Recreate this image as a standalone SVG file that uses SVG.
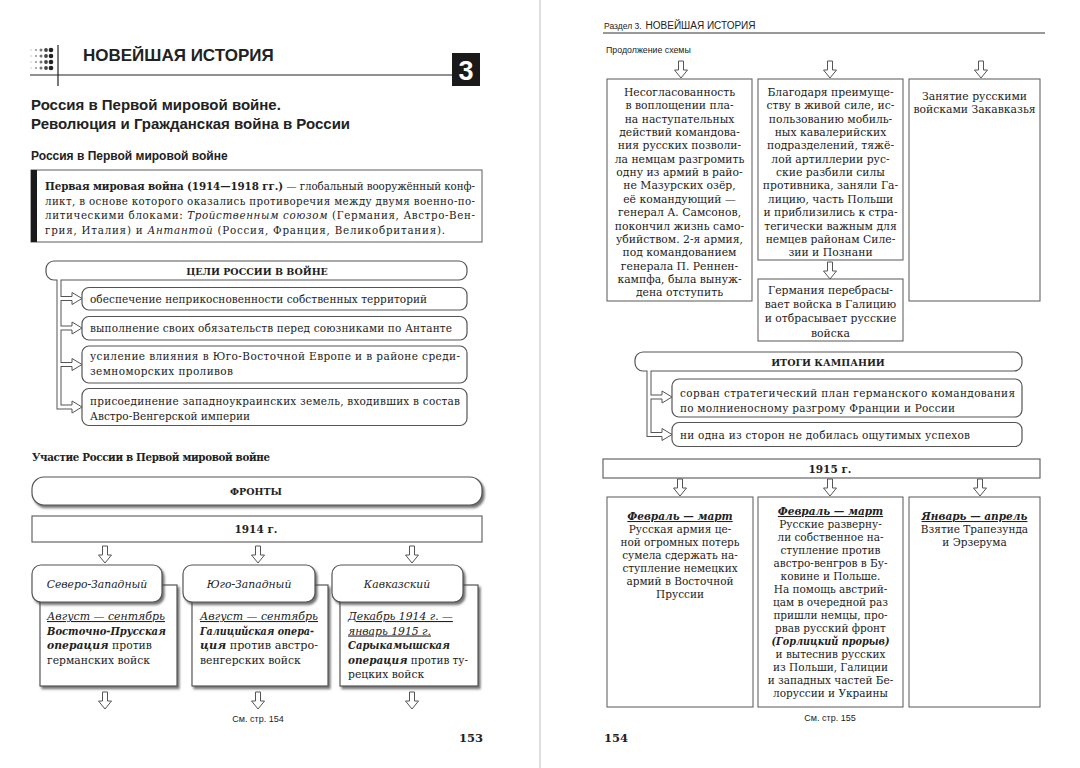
<svg xmlns="http://www.w3.org/2000/svg" width="1080" height="768" viewBox="0 0 1080 768">
<defs>
<filter id="sh" x="-10%" y="-10%" width="130%" height="150%"><feDropShadow dx="2" dy="2.5" stdDeviation="1.3" flood-color="#444" flood-opacity="0.75"/></filter>
<path id="darr" d="M-2.5,0 V9 H-6.5 L0,17 L6.5,9 H2.5 V0 Z" fill="#fff" stroke="#555" stroke-width="1"/>
<path id="rarr" d="M0,-2 V-6 L10,0 L0,6 V2" fill="#fff" stroke="#555" stroke-width="1"/>
</defs>
<style>
.sf{font-family:"DejaVu Serif","Liberation Serif",serif;fill:#222}
.ss{font-family:"Liberation Sans",Arial,sans-serif;fill:#222}
.box{fill:#fff;stroke:#555;stroke-width:1.2}
.rbox{fill:#fff;stroke:#666;stroke-width:1.1}
.body{font-size:10.5px}
.rc{font-size:10.8px}
.card{font-size:10.8px}
.hd{font-size:9.5px;font-weight:bold}
.u{text-decoration:underline}
.bi{font-weight:bold;font-style:italic}
.it{font-style:italic}
.b{font-weight:bold}
.stemd{fill:none;stroke:#555;stroke-width:5}
.stemw{fill:none;stroke:#fff;stroke-width:3}
</style>
<rect width="1080" height="768" fill="#fff"/>
<line x1="540" y1="0" x2="540" y2="768" stroke="#d4d4d4" stroke-width="1.5"/>

<!-- LEFT PAGE HEADER -->
<g id="left-header">
<g fill="#222">
<circle cx="31" cy="50" r="0.7" fill="#bbb"/><circle cx="36" cy="50" r="1.1" fill="#999"/><circle cx="41" cy="50" r="1.5" fill="#777"/><circle cx="46" cy="50" r="1.9" fill="#444"/><circle cx="51" cy="50" r="2.3"/>
<circle cx="31" cy="56" r="0.7" fill="#bbb"/><circle cx="36" cy="56" r="1.1" fill="#999"/><circle cx="41" cy="56" r="1.5" fill="#777"/><circle cx="46" cy="56" r="1.9" fill="#444"/><circle cx="51" cy="56" r="2.3"/>
<circle cx="31" cy="62" r="0.7" fill="#bbb"/><circle cx="36" cy="62" r="1.1" fill="#999"/><circle cx="41" cy="62" r="1.5" fill="#777"/><circle cx="46" cy="62" r="1.9" fill="#444"/><circle cx="51" cy="62" r="2.3"/>
<circle cx="31" cy="68" r="0.7" fill="#bbb"/><circle cx="36" cy="68" r="1.1" fill="#999"/><circle cx="41" cy="68" r="1.5" fill="#777"/><circle cx="46" cy="68" r="1.9" fill="#444"/><circle cx="51" cy="68" r="2.3"/>
</g>
<line x1="58" y1="45" x2="58" y2="86" stroke="#222" stroke-width="1.2"/>
<line x1="30" y1="75" x2="452" y2="75" stroke="#222" stroke-width="1.2"/>
<text x="83" y="61" class="ss" font-size="17" font-weight="bold">НОВЕЙШАЯ ИСТОРИЯ</text>
<rect x="452" y="53" width="28" height="33" fill="#1a1a1a"/>
<text x="466" y="80" class="ss" font-size="27" font-weight="bold" style="fill:#fff" text-anchor="middle">3</text>
</g>

<g id="titles">
<text x="31" y="110" class="ss" font-size="15" font-weight="bold">Россия в Первой мировой войне.</text>
<text x="31" y="129" class="ss" font-size="15" font-weight="bold">Революция и Гражданская война в России</text>
<text x="31" y="160" class="ss" font-size="12" font-weight="bold">Россия в Первой мировой войне</text>
</g>

<g id="definition">
<rect x="31" y="170" width="451" height="72" fill="#fff" stroke="#777" stroke-width="1.2"/>
<rect x="31" y="170" width="6" height="72" fill="#1a1a1a"/>
<g class="sf" font-size="10.3">
<text x="45" y="190" textLength="430" lengthAdjust="spacing"><tspan class="b">Первая мировая война (1914—1918 гг.)</tspan> — глобальный вооружённый конф-</text>
<text x="45" y="204.5" textLength="430" lengthAdjust="spacing">ликт, в основе которого оказались противоречия между двумя военно-по-</text>
<text x="45" y="219" textLength="430" lengthAdjust="spacing">литическими блоками: <tspan class="it">Тройственным союзом</tspan> (Германия, Австро-Вен-</text>
<text x="45" y="233.5" textLength="400" lengthAdjust="spacing">грия, Италия) и <tspan class="it">Антантой</tspan> (Россия, Франция, Великобритания).</text>
</g>
</g>

<!-- GOALS -->
<g id="goals-header">
<rect x="46" y="261" width="421" height="19" rx="8" class="box"/>
<text x="257" y="274.5" class="sf hd" text-anchor="middle">ЦЕЛИ РОССИИ В ВОЙНЕ</text>
</g>
<g id="goal-1">
<rect x="82" y="287.5" width="385" height="22.5" rx="7" class="box"/>
<text x="90" y="302.5" class="sf body" textLength="337" lengthAdjust="spacing">обеспечение неприкосновенности собственных территорий</text>
</g>
<g id="goal-2">
<rect x="82" y="316.5" width="385" height="23.5" rx="7" class="box"/>
<text x="90" y="332" class="sf body" textLength="362" lengthAdjust="spacing">выполнение своих обязательств перед союзниками по Антанте</text>
</g>
<g id="goal-3">
<rect x="82" y="346" width="385" height="37" rx="7" class="box"/>
<text x="90" y="360" class="sf body" textLength="370" lengthAdjust="spacing">усиление влияния в Юго-Восточной Европе и в районе среди-</text>
<text x="90" y="375" class="sf body" textLength="143" lengthAdjust="spacing">земноморских проливов</text>
</g>
<g id="goal-4">
<rect x="82" y="388.5" width="385" height="37" rx="7" class="box"/>
<text x="90" y="405" class="sf body" textLength="370" lengthAdjust="spacing">присоединение западноукраинских земель, входивших в состав</text>
<text x="90" y="420" class="sf body" textLength="160" lengthAdjust="spacing">Австро-Венгерской империи</text>
</g>

<text x="32" y="461" class="sf b" font-size="10.3" textLength="238" lengthAdjust="spacing">Участие России в Первой мировой войне</text>

<g id="fronts">
<rect x="32" y="477" width="450" height="28" rx="12" class="box" filter="url(#sh)"/>
<text x="256" y="495" class="sf hd" text-anchor="middle">ФРОНТЫ</text>
</g>
<g id="y1914">
<rect x="32" y="516" width="450" height="26" fill="#fff" stroke="#666" stroke-width="1.2"/>
<text x="256" y="533" class="sf b" font-size="10.5" text-anchor="middle">1914 г.</text>
</g>

<!-- FRONT CARDS -->
<g id="front-nw">
<rect x="40" y="585" width="137" height="101" class="box" filter="url(#sh)"/>
<rect x="32" y="565" width="130" height="37" rx="9" class="box" filter="url(#sh)"/>
<text x="97" y="588" class="sf card it" text-anchor="middle">Северо-Западный</text>
<text class="sf card it u" x="47" y="620" textLength="118" lengthAdjust="spacingAndGlyphs">Август — сентябрь</text>
<text class="sf card bi" x="47" y="634.5" textLength="119" lengthAdjust="spacingAndGlyphs">Восточно-Прусская</text>
<text class="sf card" x="47" y="649"><tspan class="bi">операция</tspan> против</text>
<text class="sf card" x="47" y="663.5">германских войск</text>
</g>
<g id="front-sw">
<rect x="192" y="585" width="136" height="101" class="box" filter="url(#sh)"/>
<rect x="183" y="565" width="132" height="37" rx="9" class="box" filter="url(#sh)"/>
<text x="249" y="588" class="sf card it" text-anchor="middle">Юго-Западный</text>
<text class="sf card it u" x="200" y="620" textLength="118" lengthAdjust="spacingAndGlyphs">Август — сентябрь</text>
<text class="sf card bi" x="200" y="634.5" textLength="114" lengthAdjust="spacingAndGlyphs">Галицийская опера-</text>
<text class="sf card" x="200" y="649" textLength="118" lengthAdjust="spacingAndGlyphs"><tspan class="bi">ция</tspan> против австро-</text>
<text class="sf card" x="200" y="663.5">венгерских войск</text>
</g>
<g id="front-cauc">
<rect x="340" y="585" width="138" height="101" class="box" filter="url(#sh)"/>
<rect x="332" y="565" width="131" height="37" rx="9" class="box" filter="url(#sh)"/>
<text x="397" y="588" class="sf card it" text-anchor="middle">Кавказский</text>
<text class="sf card it u" x="348" y="620">Декабрь 1914 г. —</text>
<text class="sf card it u" x="348" y="634.5">январь 1915 г.</text>
<text class="sf card bi" x="348" y="649" textLength="102" lengthAdjust="spacingAndGlyphs">Сарыкамышская</text>
<text class="sf card" x="348" y="663.5" textLength="120" lengthAdjust="spacingAndGlyphs"><tspan class="bi">операция</tspan> против ту-</text>
<text class="sf card" x="348" y="678">рецких войск</text>
</g>

<text x="258" y="722" class="ss" font-size="9" text-anchor="middle">См. стр. 154</text>
<text x="471" y="742" class="sf b" font-size="11.5" text-anchor="middle">153</text>

<!-- RIGHT PAGE -->
<g id="right-header">
<text x="604" y="29" class="ss"><tspan font-size="8.5">Раздел 3.</tspan><tspan font-size="10" dx="4">НОВЕЙШАЯ ИСТОРИЯ</tspan></text>
<line x1="603" y1="33" x2="1045" y2="33" stroke="#333" stroke-width="1"/>
<text x="606" y="53" class="ss" font-size="8.8">Продолжение схемы</text>
</g>

<g id="r-col1">
<rect x="607" y="79" width="145" height="222" class="rbox"/>
<text class="sf rc" text-anchor="middle" x="679.5" y="96"><tspan x="679.5">Несогласованность</tspan><tspan x="679.5" dy="13.35">в воплощении пла-</tspan><tspan x="679.5" dy="13.35">на наступательных</tspan><tspan x="679.5" dy="13.35">действий командова-</tspan><tspan x="679.5" dy="13.35">ния русских позволи-</tspan><tspan x="679.5" dy="13.35">ла немцам разгромить</tspan><tspan x="679.5" dy="13.35">одну из армий в райо-</tspan><tspan x="679.5" dy="13.35">не Мазурских озёр,</tspan><tspan x="679.5" dy="13.35">её командующий —</tspan><tspan x="679.5" dy="13.35">генерал А. Самсонов,</tspan><tspan x="679.5" dy="13.35">покончил жизнь само-</tspan><tspan x="679.5" dy="13.35">убийством. 2-я армия,</tspan><tspan x="679.5" dy="13.35">под командованием</tspan><tspan x="679.5" dy="13.35">генерала П. Реннен-</tspan><tspan x="679.5" dy="13.35">кампфа, была вынуж-</tspan><tspan x="679.5" dy="13.35">дена отступить</tspan></text>
</g>
<g id="r-col2">
<rect x="758" y="79" width="145" height="181" class="rbox"/>
<text class="sf rc" text-anchor="middle" x="830.5" y="96"><tspan x="830.5">Благодаря преимуще-</tspan><tspan x="830.5" dy="13.35">ству в живой силе, ис-</tspan><tspan x="830.5" dy="13.35">пользованию мобиль-</tspan><tspan x="830.5" dy="13.35">ных кавалерийских</tspan><tspan x="830.5" dy="13.35">подразделений, тяжё-</tspan><tspan x="830.5" dy="13.35">лой артиллерии рус-</tspan><tspan x="830.5" dy="13.35">ские разбили силы</tspan><tspan x="830.5" dy="13.35">противника, заняли Га-</tspan><tspan x="830.5" dy="13.35">лицию, часть Польши</tspan><tspan x="830.5" dy="13.35">и приблизились к стра-</tspan><tspan x="830.5" dy="13.35">тегически важным для</tspan><tspan x="830.5" dy="13.35">немцев районам Силе-</tspan><tspan x="830.5" dy="13.35">зии и Познани</tspan></text>
</g>
<g id="r-col2b">
<rect x="758" y="279" width="145" height="62" class="rbox"/>
<text class="sf rc" text-anchor="middle" x="830.5" y="294"><tspan x="830.5">Германия перебрасы-</tspan><tspan x="830.5" dy="14.2">вает войска в Галицию</tspan><tspan x="830.5" dy="14.2">и отбрасывает русские</tspan><tspan x="830.5" dy="14.2">войска</tspan></text>
</g>
<g id="r-col3">
<rect x="909" y="79" width="131" height="222" class="rbox"/>
<text class="sf rc" text-anchor="middle" x="974.5" y="100"><tspan x="974.5">Занятие русскими</tspan><tspan x="974.5" dy="13.35">войсками Закавказья</tspan></text>
</g>

<g id="results-header">
<rect x="635" y="352" width="387" height="19" rx="8" class="box"/>
<text x="828" y="365.5" class="sf hd" text-anchor="middle">ИТОГИ КАМПАНИИ</text>
</g>
<g id="result-1">
<rect x="672" y="379" width="350" height="38" rx="7" class="box"/>
<text x="680" y="397" class="sf body" textLength="335" lengthAdjust="spacing">сорван стратегический план германского командования</text>
<text x="680" y="411.5" class="sf body" textLength="275" lengthAdjust="spacing">по молниеносному разгрому Франции и России</text>
</g>
<g id="result-2">
<rect x="672" y="422.5" width="350" height="24" rx="7" class="box"/>
<text x="680" y="438.5" class="sf body" textLength="290" lengthAdjust="spacing">ни одна из сторон не добилась ощутимых успехов</text>
</g>

<g id="y1915">
<rect x="603" y="459" width="437" height="19" fill="#fff" stroke="#666" stroke-width="1.2"/>
<text x="830" y="472.5" class="sf b" font-size="10.5" text-anchor="middle">1915 г.</text>
</g>

<g id="r15-col1">
<rect x="607" y="497" width="146" height="210" class="rbox"/>
<text class="sf body" text-anchor="middle" x="680" y="520"><tspan x="680" class="bi u">Февраль — март</tspan><tspan x="680" dy="13">Русская армия це-</tspan><tspan x="680" dy="13">ной огромных потерь</tspan><tspan x="680" dy="13">сумела сдержать на-</tspan><tspan x="680" dy="13">ступление немецких</tspan><tspan x="680" dy="13">армий в Восточной</tspan><tspan x="680" dy="13">Пруссии</tspan></text>
</g>
<g id="r15-col2">
<rect x="758" y="497" width="145" height="210" class="rbox"/>
<text class="sf body" text-anchor="middle" x="830.5" y="515"><tspan x="830.5" class="bi u">Февраль — март</tspan><tspan x="830.5" dy="13">Русские разверну-</tspan><tspan x="830.5" dy="13">ли собственное на-</tspan><tspan x="830.5" dy="13">ступление против</tspan><tspan x="830.5" dy="13">австро-венгров в Бу-</tspan><tspan x="830.5" dy="13">ковине и Польше.</tspan><tspan x="830.5" dy="13">На помощь австрий-</tspan><tspan x="830.5" dy="13">цам в очередной раз</tspan><tspan x="830.5" dy="13">пришли немцы, про-</tspan><tspan x="830.5" dy="13">рвав русский фронт</tspan></text>
<text class="sf body bi" text-anchor="middle" x="830.5" y="645" textLength="118" lengthAdjust="spacingAndGlyphs">(Горлицкий прорыв)</text>
<text class="sf body" text-anchor="middle" x="830.5" y="658"><tspan x="830.5">и вытеснив русских</tspan><tspan x="830.5" dy="13">из Польши, Галиции</tspan><tspan x="830.5" dy="13">и западных частей Бе-</tspan><tspan x="830.5" dy="13">лоруссии и Украины</tspan></text>
</g>
<g id="r15-col3">
<rect x="909" y="497" width="131" height="210" class="rbox"/>
<text class="sf body" text-anchor="middle" x="974.5" y="520"><tspan x="974.5" class="bi u">Январь — апрель</tspan><tspan x="974.5" dy="13">Взятие Трапезунда</tspan><tspan x="974.5" dy="13">и Эрзерума</tspan></text>
</g>

<text x="830" y="721" class="ss" font-size="9" text-anchor="middle">См. стр. 155</text>
<text x="604" y="742" class="sf b" font-size="11.5">154</text>

<!-- CONNECTORS -->
<g id="connectors">
<path class="stemd" d="M59,280 V407 H72 M59,298.5 H72 M59,328 H72 M59,364.5 H72"/>
<path class="stemw" d="M59,279 V407 H72 M59,298.5 H72 M59,328 H72 M59,364.5 H72"/>
<use href="#rarr" x="72" y="298.5"/>
<use href="#rarr" x="72" y="328"/>
<use href="#rarr" x="72" y="364.5"/>
<use href="#rarr" x="72" y="407"/>
<path class="stemd" d="M649,371 V434.5 H662 M649,397 H662"/>
<path class="stemw" d="M649,370 V434.5 H662 M649,397 H662"/>
<use href="#rarr" x="662" y="397"/>
<use href="#rarr" x="662" y="434.5"/>
<use href="#darr" x="105" y="546"/>
<use href="#darr" x="258" y="546"/>
<use href="#darr" x="412" y="546"/>
<use href="#darr" x="105" y="692"/>
<use href="#darr" x="258" y="692"/>
<use href="#darr" x="412" y="692"/>
<use href="#darr" x="681" y="61"/>
<use href="#darr" x="830" y="61"/>
<use href="#darr" x="981" y="61"/>
<use href="#darr" x="830" y="262"/>
<use href="#darr" x="680" y="479"/>
<use href="#darr" x="830" y="479"/>
<use href="#darr" x="980" y="479"/>
</g>
</svg>
